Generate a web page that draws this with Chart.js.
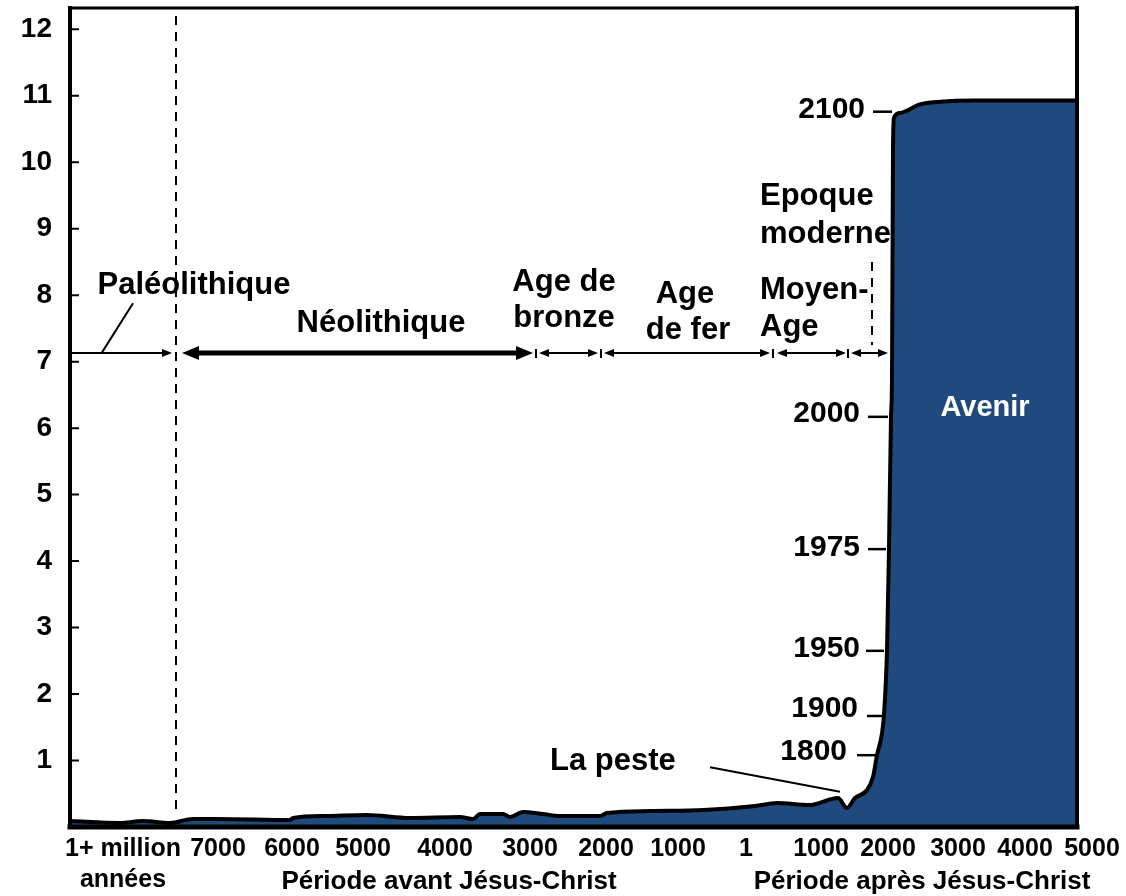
<!DOCTYPE html>
<html>
<head>
<meta charset="utf-8">
<script src="https://cdn.jsdelivr.net/npm/chart.js@4.4.1/dist/chart.umd.min.js"></script>
<style>
  html, body { margin: 0; padding: 0; background: #fff; }
</style>
</head>
<body>
<canvas id="chart" width="1126" height="896"></canvas>
<script>
// the time axis of the picture is not to scale, so x is kept in the picture's own units
const tickPos = [53, 148, 222, 293, 375, 460, 536, 608, 676, 751, 818, 888, 955, 1022];
const tickLabels = [['1+ million', 'années'], '7000', '6000', '5000', '4000', '3000', '2000', '1000', '1',
                    '1000', '2000', '3000', '4000', '5000'];
const yTicks = [1, 2, 3, 4, 5, 6, 7, 8, 9, 10, 11, 12];

// world population (billions)
const popX = [0, 50, 73, 100, 123, 147, 220, 223, 257, 297, 340, 390, 403, 410, 433, 440, 453, 473, 490,
              530, 537, 580, 634, 685, 707, 739, 768, 777, 785, 797, 803, 807, 812, 814, 817, 818, 819,
              821, 822, 823, 824, 830, 850, 870, 903, 1007];
const popY = [0.09, 0.06, 0.09, 0.06, 0.12, 0.12, 0.105, 0.135, 0.165, 0.18, 0.135, 0.15, 0.12, 0.195,
              0.195, 0.15, 0.225, 0.195, 0.165, 0.165, 0.21, 0.24, 0.255, 0.316, 0.36, 0.33, 0.436, 0.286,
              0.436, 0.557, 0.752, 1.08, 1.41, 1.69, 2.66, 3.42, 4.18, 6.17, 6.73, 10.23, 10.67, 10.74,
              10.87, 10.91, 10.93, 10.93];

// period arrows along the 7 line: [from, to, both ends, thick]
const periodArrows = [[0, 102, false, false], [112, 463, true, true], [469, 528, true, false],
                      [534, 700, true, false], [707, 776, true, false], [781, 818, true, false]];
const periodMarks = [466, 531, 703, 778];
const arrowLevel = 7.13;

// text: [text, x, y, align]
const periodTexts = [
  ['Paléolithique', 124, 8.02, 'center'],
  ['Néolithique', 311, 7.45, 'center'],
  ['Age de', 494, 8.06, 'center'],
  ['bronze', 494, 7.52, 'center'],
  ['Age', 615, 7.88, 'center'],
  ['de fer', 618, 7.34, 'center'],
  ['Moyen-', 690, 7.94, 'left'],
  ['Age', 690, 7.39, 'left'],
  ['Epoque', 690, 9.36, 'left'],
  ['moderne', 690, 8.78, 'left'],
  ['La peste', 480, 0.86, 'left']
];
// year markers: [year, text right edge, baseline, dash from, dash to, dash level]
const yearMarks = [
  ['2100', 795, 10.67, 803, 822, 10.76],
  ['2000', 790, 6.09, 798, 818, 6.17],
  ['1975', 790, 4.08, 798, 816, 4.18],
  ['1950', 790, 2.56, 796, 814, 2.65],
  ['1900', 788, 1.65, 797, 813, 1.67],
  ['1800', 777, 1.01, 787, 807, 1.08]
];
const bottomTitles = [['Période avant Jésus-Christ', 379], ['Période après Jésus-Christ', 852]];

const FONT = '"Liberation Sans", Arial, sans-serif';
const BLUE = '#1F4A7D';

function head(ctx, x, y, dir, len, half) {
  ctx.beginPath();
  ctx.moveTo(x, y);
  ctx.lineTo(x - dir * len, y - half);
  ctx.lineTo(x - dir * len, y + half);
  ctx.closePath();
  ctx.fill();
}

function noPad(s) {
  s.paddingLeft = 0;
  s.paddingRight = 0;
  s.paddingTop = 0;
  s.paddingBottom = 0;
}

const annotations = {
  id: 'annotations',
  afterDraw(chart) {
    const ctx = chart.ctx;
    const xs = chart.scales.x, ys = chart.scales.y;
    const px = v => xs.getPixelForValue(v);
    const py = v => ys.getPixelForValue(v);
    const a = chart.chartArea;
    ctx.save();
    ctx.fillStyle = '#000';
    ctx.strokeStyle = '#000';

    // dashed period borders
    ctx.lineWidth = 2;
    ctx.setLineDash([9, 7]);
    ctx.beginPath();
    ctx.moveTo(px(106), py(12.2));
    ctx.lineTo(px(106), py(0.23));
    ctx.moveTo(px(802), py(8.5));
    ctx.lineTo(px(802), py(7.25));
    ctx.stroke();
    ctx.setLineDash([]);

    // arrows
    const ay = py(arrowLevel);
    periodArrows.forEach(([f, t, both, thick]) => {
      const x1 = px(f), x2 = px(t);
      const len = thick ? 17 : 10, half = thick ? 7 : 4;
      ctx.lineWidth = thick ? 5 : 2;
      ctx.beginPath();
      ctx.moveTo(both ? x1 + len - 2 : x1, ay);
      ctx.lineTo(x2 - len + 2, ay);
      ctx.stroke();
      head(ctx, x2, ay, 1, len, half);
      if (both) head(ctx, x1, ay, -1, len, half);
    });
    ctx.lineWidth = 2;
    ctx.beginPath();
    periodMarks.forEach(m => {
      ctx.moveTo(px(m), ay - 4);
      ctx.lineTo(px(m), ay + 5);
    });
    // pointers
    ctx.moveTo(px(63), py(7.88));
    ctx.lineTo(px(32), py(7.14));
    ctx.moveTo(px(640), py(0.90));
    ctx.lineTo(px(770), py(0.53));
    ctx.stroke();

    // period texts
    ctx.font = 'bold 31px ' + FONT;
    ctx.textBaseline = 'alphabetic';
    periodTexts.forEach(([s, x, y, al]) => {
      ctx.textAlign = al;
      ctx.fillText(s, px(x), py(y));
    });

    // year markers
    ctx.font = 'bold 30px ' + FONT;
    ctx.textAlign = 'right';
    yearMarks.forEach(([s, x, y, d1, d2, dy]) => {
      ctx.fillText(s, px(x), py(y));
      ctx.lineWidth = 2.5;
      ctx.beginPath();
      ctx.moveTo(px(d1), py(dy));
      ctx.lineTo(px(d2), py(dy));
      ctx.stroke();
    });

    ctx.fillStyle = '#fff';
    ctx.textAlign = 'center';
    ctx.font = 'bold 29px ' + FONT;
    ctx.fillText('Avenir', px(915), py(6.18));

    // bottom titles
    ctx.fillStyle = '#000';
    ctx.font = 'bold 26px ' + FONT;
    bottomTitles.forEach(([s, x]) => ctx.fillText(s, px(x), a.bottom + 62));

    // frame and inner y ticks
    ctx.lineWidth = 2;
    ctx.beginPath();
    yTicks.forEach(v => {
      ctx.moveTo(a.left, py(v));
      ctx.lineTo(a.left + 9, py(v));
    });
    ctx.stroke();
    ctx.lineCap = 'square';
    ctx.lineWidth = 3;
    ctx.beginPath();
    ctx.moveTo(a.left, a.top);
    ctx.lineTo(a.right, a.top);
    ctx.stroke();
    ctx.lineWidth = 4;
    ctx.beginPath();
    ctx.moveTo(a.left, a.top);
    ctx.lineTo(a.left, a.bottom);
    ctx.moveTo(a.right, a.top);
    ctx.lineTo(a.right, a.bottom);
    ctx.stroke();
    ctx.lineWidth = 5;
    ctx.beginPath();
    ctx.moveTo(a.left, a.bottom);
    ctx.lineTo(a.right, a.bottom);
    ctx.stroke();
    ctx.restore();
  }
};

new Chart(document.getElementById('chart'), {
  type: 'line',
  data: {
    datasets: [{
      data: popX.map((x, i) => ({ x: x, y: popY[i] })),
      borderColor: '#000',
      borderWidth: 4,
      backgroundColor: BLUE,
      fill: 'start',
      pointRadius: 0,
      cubicInterpolationMode: 'monotone'
    }]
  },
  options: {
    responsive: false,
    animation: false,
    devicePixelRatio: 1,
    layout: { padding: { top: 8, right: 49, left: 0, bottom: 0 } },
    plugins: { legend: { display: false }, tooltip: { enabled: false } },
    scales: {
      x: {
        type: 'linear',
        min: 0,
        max: 1007,
        afterFit: s => { s.height = 69; noPad(s); },
        afterBuildTicks: s => { s.ticks = tickPos.map(v => ({ value: v })); },
        grid: { display: false, drawTicks: false },
        border: { display: false },
        ticks: {
          autoSkip: false,
          maxRotation: 0,
          minRotation: 0,
          padding: 6,
          color: '#000',
          font: { family: FONT, size: 25, weight: 'bold', lineHeight: 1.25 },
          callback: (v, i) => tickLabels[i]
        }
      },
      y: {
        min: 0,
        max: 12.32,
        afterFit: s => { s.width = 70; noPad(s); },
        afterBuildTicks: s => { s.ticks = yTicks.map(v => ({ value: v })); },
        grid: { display: false, drawTicks: false },
        border: { display: false },
        ticks: {
          padding: 18,
          color: '#000',
          font: { family: FONT, size: 28, weight: 'bold' }
        }
      }
    }
  },
  plugins: [annotations]
});
</script>
</body>
</html>
